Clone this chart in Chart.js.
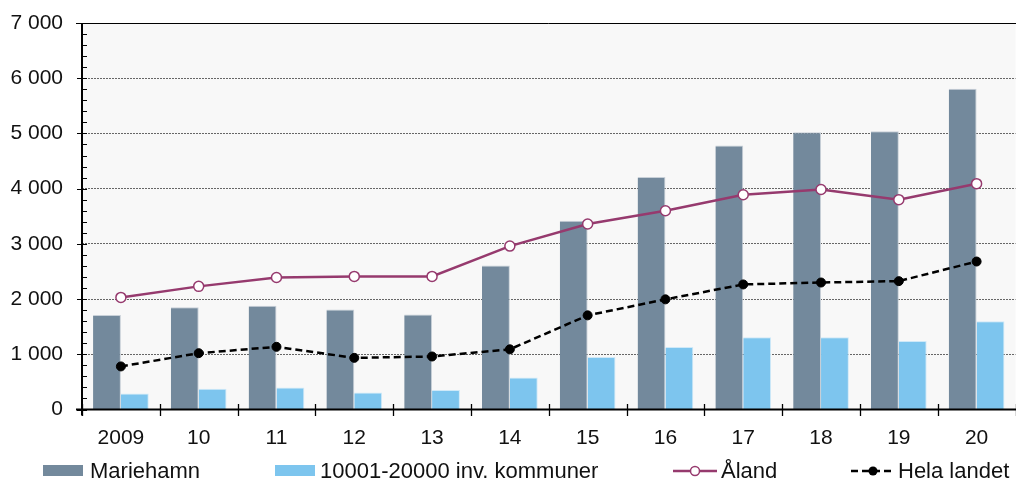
<!DOCTYPE html>
<html><head><meta charset="utf-8">
<script src="https://cdn.jsdelivr.net/npm/chart.js@4/dist/chart.umd.min.js"></script>
<style>
html,body{margin:0;padding:0;width:1016px;height:482px;overflow:hidden;background:#fff;font-family:"Liberation Sans",Arial,sans-serif;}
#wrap{position:absolute;left:0;top:0;width:1022px;height:482px;}
.leg{position:absolute;top:459px;height:24px;font-size:22px;line-height:24px;color:#111;white-space:nowrap;display:flex;align-items:center;}
.leg svg{display:block;margin-right:5px;}
</style></head>
<body>
<div id="wrap"><canvas id="c" width="1022" height="482"></canvas></div>
<div id="legend"></div>
<script>
const categories = ['2009','10','11','12','13','14','15','16','17','18','19','20'];
const mariehamn  = [1710,1850,1880,1810,1720,2610,3420,4210,4780,5020,5040,5810];
const kommuner   = [290,375,400,310,355,580,950,1130,1310,1310,1240,1600];
const aland      = [2030,2230,2390,2410,2410,2960,3360,3600,3890,3985,3800,4090];
const helaLandet = [780,1020,1135,935,960,1090,1705,1995,2265,2300,2325,2680];
const yTicks     = [0,1000,2000,3000,4000,5000,6000,7000];
const seriesNames = ['Mariehamn','10001-20000 inv. kommuner','Åland','Hela landet'];

const COL_M = '#73899c', COL_K = '#7dc5ee', COL_A = '#963a6e', COL_H = '#000000';

const fmt = v => String(v).replace(/\B(?=(\d{3})+(?!\d))/g, '\u00a0');

const decor = {
  id: 'decor',
  beforeDraw(chart) {
    const {ctx, chartArea: a} = chart;
    ctx.save();
    ctx.fillStyle = '#f8f8f8';
    ctx.fillRect(a.left, a.top, a.right - a.left, a.bottom - a.top);
    ctx.restore();
  },
  afterDatasetsDraw(chart) {
    const {ctx, chartArea: a, scales} = chart;
    const y = scales.y;
    ctx.save();
    ctx.strokeStyle = '#000';
    ctx.lineWidth = 1;
    const yt = Math.round(y.getPixelForValue(yTicks[yTicks.length - 1])) + 0.5;
    ctx.beginPath(); ctx.moveTo(a.left - 6, yt); ctx.lineTo(a.right + 5, yt); ctx.stroke();
    for (let v = yTicks[0]; v <= yTicks[yTicks.length - 1]; v += 200) {
      const py = Math.round(y.getPixelForValue(v)) + 0.5;
      ctx.beginPath();
      if (v % 1000 === 0) { ctx.moveTo(a.left - 5, py); ctx.lineTo(a.left + 5, py); }
      else { ctx.moveTo(a.left, py); ctx.lineTo(a.left + 5, py); }
      ctx.stroke();
    }
    const yb = Math.round(a.bottom);
    const w = (a.right - a.left) / categories.length;
    ctx.lineWidth = 1.3;
    for (let i = 0; i <= categories.length; i++) {
      const px = Math.round(a.left + i * w) + 0.5;
      ctx.beginPath(); ctx.moveTo(px, yb - 6); ctx.lineTo(px, yb + 6); ctx.stroke();
    }
    ctx.lineWidth = 2;
    ctx.beginPath(); ctx.moveTo(a.left, a.top); ctx.lineTo(a.left, a.bottom + 6); ctx.stroke();
    ctx.beginPath(); ctx.moveTo(a.left - 6, a.bottom); ctx.lineTo(a.right + 5, a.bottom); ctx.stroke();
    ctx.restore();
  }
};

const FONT = '"Liberation Sans", Arial, sans-serif';

const chart = new Chart(document.getElementById('c'), {
  type: 'bar',
  data: {
    labels: categories,
    datasets: [
      { type: 'line', label: seriesNames[3], data: helaLandet, borderColor: COL_H, backgroundColor: COL_H,
        borderWidth: 2.5, borderDash: [7, 4], pointRadius: 4.5, pointBackgroundColor: '#000', pointBorderColor: '#000',
        pointBorderWidth: 1, tension: 0, order: 0 },
      { type: 'line', label: seriesNames[2], data: aland, borderColor: COL_A, backgroundColor: '#fff',
        borderWidth: 2.5, pointRadius: 5, pointBackgroundColor: '#fff', pointBorderColor: COL_A,
        pointBorderWidth: 1.5, tension: 0, order: 1 },
      { label: seriesNames[0], data: mariehamn, backgroundColor: COL_M, borderColor: '#c8d0d8',
        borderWidth: {top: 1, right: 1, left: 0, bottom: 0}, categoryPercentage: 0.716, barPercentage: 1, order: 2 },
      { label: seriesNames[1], data: kommuner, backgroundColor: COL_K, borderColor: '#cfe9f8',
        borderWidth: {top: 1, right: 1, left: 0, bottom: 0}, categoryPercentage: 0.716, barPercentage: 1, order: 3 }
    ]
  },
  options: {
    responsive: false,
    animation: false,
    devicePixelRatio: 1,
    layout: { padding: { top: 23, right: 1, left: 0, bottom: 0 } },
    plugins: { legend: { display: false }, tooltip: { enabled: false } },
    scales: {
      x: {
        offset: true,
        afterFit(s) { s.height = 72.5; },
        grid: { display: true, drawOnChartArea: false, drawTicks: false, offset: true },
        border: { display: false },
        ticks: { color: '#111', padding: 16, font: { family: FONT, size: 21 }, maxRotation: 0, autoSkip: false }
      },
      y: {
        min: 0, max: 7000,
        afterBuildTicks(s) { s.ticks = yTicks.map(v => ({ value: v })); },
        afterFit(s) { s.width = 82; s.paddingTop = 0; s.paddingBottom = 0; },
        grid: {
          drawTicks: false,
          color: ctx => (ctx.tick && (ctx.tick.value === 0 || ctx.tick.value === 7000)) ? 'rgba(0,0,0,0)' : '#666',
          lineWidth: 1
        },
        border: { display: false, dash: [2, 1] },
        ticks: { color: '#111', padding: 19, callback: v => fmt(v), font: { family: FONT, size: 21 } }
      }
    }
  },
  plugins: [decor]
});

const legend = document.getElementById('legend');
function item(left, svg, text) {
  const d = document.createElement('div');
  d.className = 'leg'; d.style.left = left + 'px';
  d.innerHTML = svg + '<span>' + text + '</span>';
  legend.appendChild(d);
}
item(43, `<svg width="40" height="12" style="margin-right:7px"><rect x="0" y="0" width="40" height="11" fill="${COL_M}"/></svg>`, seriesNames[0]);
item(275, `<svg width="40" height="12"><rect x="0" y="0" width="40" height="11" fill="${COL_K}"/></svg>`, seriesNames[1]);
item(673, `<svg width="44" height="14" style="margin-right:4px"><line x1="0" y1="7" x2="44" y2="7" stroke="${COL_A}" stroke-width="2.5"/><circle cx="22" cy="7" r="4.5" fill="#fff" stroke="${COL_A}" stroke-width="1.5"/></svg>`, seriesNames[2]);
item(851, `<svg width="44" height="14" style="margin-right:3px"><line x1="0" y1="7" x2="44" y2="7" stroke="#000" stroke-width="2.5" stroke-dasharray="7 4"/><circle cx="22" cy="7" r="4.5" fill="#000"/></svg>`, seriesNames[3]);
</script>
</body></html>
